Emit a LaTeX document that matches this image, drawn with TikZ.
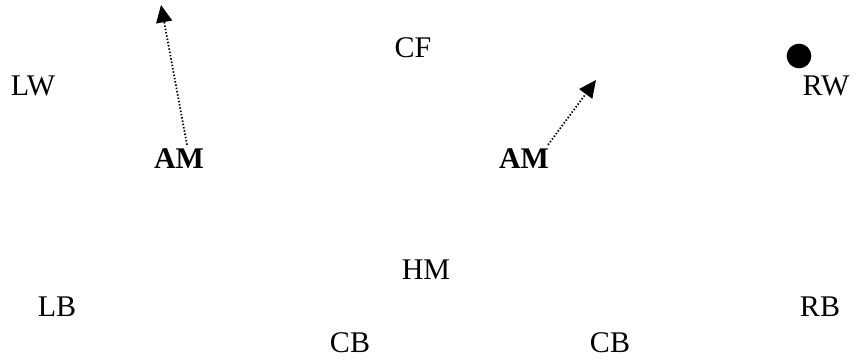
\documentclass[tikz,border=0pt]{standalone}
\usepackage{fontspec}
\setmainfont{Liberation Serif}
\usetikzlibrary{arrows.meta}

\tikzset{
  player/.style={inner sep=0pt, font=\fontsize{22.5pt}{27pt}\selectfont},
  mid/.style={player, font=\fontsize{22.5pt}{27pt}\selectfont\bfseries},
  run/.style={line width=1.3pt, dash pattern=on 1.1pt off 1.4pt, -{Triangle[length=13pt,width=12pt]}},
  ball/.style={circle, fill=black, inner sep=0pt, minimum size=18.5pt}
}

\begin{document}
\begin{tikzpicture}[x=0.75pt,y=-0.75pt]
\useasboundingbox (0,0) rectangle (858,360);

% front line
\node[player] (cf) at (413,48) {CF};
\node[player] (lw) at (33,86) {LW};
\node[player] (rw) at (826,86) {RW};
\node[ball] (ball) at (799,56) {};

% midfield
\node[mid] (amL) at (179,159) {AM};
\node[mid] (amR) at (524,159) {AM};
\node[player] (hm) at (426,270) {HM};

% back line
\node[player] (lb) at (57,307) {LB};
\node[player] (rb) at (820,307) {RB};
\node[player] (cbL) at (350,343) {CB};
\node[player] (cbR) at (610,343) {CB};

% runs
\coordinate (tL) at (161,5);
\coordinate (tR) at (596,80);
\draw[run] ([xshift=6pt,yshift=3pt]amL.north) -- (tL);
\draw[run] ([xshift=18pt,yshift=3pt]amR.north) -- (tR);
\end{tikzpicture}
\end{document}
